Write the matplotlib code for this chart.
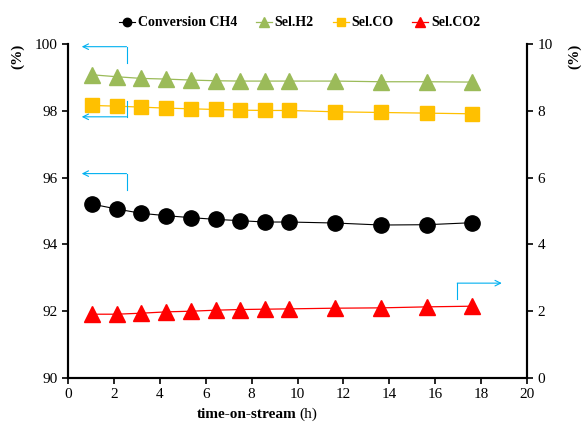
import matplotlib
matplotlib.use('Agg')
import matplotlib.pyplot as plt

plt.rcParams['font.family'] = 'serif'
plt.rcParams['font.serif'] = ['Liberation Serif', 'DejaVu Serif']

# time-on-stream (h)
tos = [1.03, 2.12, 3.2, 4.28, 5.37, 6.43, 7.5, 8.58, 9.65, 11.65, 13.65, 15.65, 17.62]

conv_ch4 = [95.21, 95.06, 94.93, 94.86, 94.80, 94.75, 94.71, 94.67, 94.67, 94.64, 94.58, 94.59, 94.65]
sel_h2 = [99.08, 99.02, 98.97, 98.95, 98.92, 98.90, 98.89, 98.89, 98.89, 98.89, 98.87, 98.87, 98.86]
sel_co = [98.16, 98.14, 98.11, 98.08, 98.06, 98.04, 98.02, 98.01, 98.01, 97.97, 97.95, 97.93, 97.91]
sel_co2 = [1.91, 1.91, 1.94, 1.98, 2.00, 2.03, 2.05, 2.06, 2.07, 2.09, 2.10, 2.13, 2.15]

x_ticks = list(range(0, 21, 2))
left_ticks = [90, 92, 94, 96, 98, 100]
right_ticks = [0, 2, 4, 6, 8, 10]

# blue guide arrows: (x_corner, y_start, y_corner, x_end)
guides = [
    (2.55, 99.42, 99.92, 0.6),
    (2.55, 98.30, 97.82, 0.6),
    (2.55, 95.64, 96.12, 0.6),
    (16.96, 92.37, 92.84, 18.9),
]

fig = plt.figure(figsize=(5.83, 4.24), dpi=100)
ax = fig.add_axes([0.1166, 0.1085, 0.7874, 0.7877])
ax2 = ax.twinx()

l1, = ax.plot(tos, conv_ch4, color='black', lw=0.8, marker='o', ms=11, label='Conversion CH4')
l2, = ax.plot(tos, sel_h2, color='#9BBB59', lw=0.9, marker='^', ms=12, label='Sel.H2')
l3, = ax.plot(tos, sel_co, color='#FFC000', lw=0.9, marker='s', ms=10.5, label='Sel.CO')
l4, = ax2.plot(tos, sel_co2, color='#FF0000', lw=0.9, marker='^', ms=12, label='Sel.CO2')

blue = '#00B0F0'
for xc, y0, yc, xe in guides:
    ax.plot([xc, xc], [y0, yc], color=blue, lw=0.8, clip_on=False)
    ax.annotate('', xy=(xe, yc), xytext=(xc, yc),
                arrowprops=dict(arrowstyle='->', color=blue, lw=0.8,
                                shrinkA=0, shrinkB=0, mutation_scale=10),
                annotation_clip=False)

ax.set_xlim(0, 20)
ax.set_ylim(90, 100)
ax2.set_ylim(0, 10)
ax.set_xticks(x_ticks)
ax.set_yticks(left_ticks)
ax2.set_yticks(right_ticks)

for a in (ax, ax2):
    a.tick_params(labelsize=11, length=4, width=1.2)
    for s in a.spines.values():
        s.set_linewidth(1.5)
    a.spines['top'].set_visible(False)

# x label: bold part + plain unit
fig.text(0.509, 0.008, 'time-on-stream', fontsize=11, fontweight='bold', ha='right', va='bottom')
fig.text(0.513, 0.008, '(h)', fontsize=11, ha='left', va='bottom')

fig.text(0.031, 0.868, '(%)', rotation=90, fontsize=11, fontweight='bold', ha='center', va='center')
fig.text(0.986, 0.868, '(%)', rotation=90, fontsize=11, fontweight='bold', ha='center', va='center')

fig.legend(handles=[l1, l2, l3, l4], loc='center', bbox_to_anchor=(0.514, 0.946),
           ncol=4, frameon=False, prop={'weight': 'bold', 'size': 10},
           handlelength=1.15, handletextpad=0.2, columnspacing=1.35, markerscale=0.55)

fig.savefig('out.png', dpi=100)
